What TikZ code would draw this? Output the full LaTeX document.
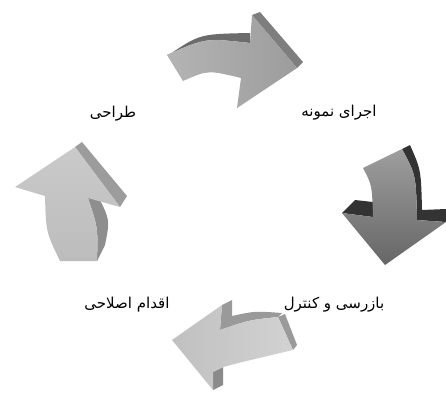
\documentclass[tikz,border=0pt]{standalone}
\usepackage{fontspec}
\newfontfamily\arabicfont[Script=Arabic]{DejaVu Sans}
\TeXXeTstate=1
\definecolor{tA}{HTML}{B4B4B4}
\definecolor{tB}{HTML}{9C9C9C}
\definecolor{tD}{HTML}{6C6C6C}
\definecolor{tH}{HTML}{7E7E7E}
\definecolor{rA}{HTML}{9E9E9E}
\definecolor{rB}{HTML}{666666}
\definecolor{rD}{HTML}{333333}
\definecolor{bA}{HTML}{D2D2D2}
\definecolor{bB}{HTML}{C0C0C0}
\definecolor{bD}{HTML}{9A9A9A}
\definecolor{lA}{HTML}{CACACA}
\definecolor{lB}{HTML}{BCBCBC}
\definecolor{lD}{HTML}{9C9C9C}
\definecolor{lE}{HTML}{8E8E8E}
\tikzset{
  lbl/.style={font=\arabicfont\fontsize{15}{18}\selectfont, inner sep=0pt},
}
\begin{document}
\begin{tikzpicture}[x=1pt,y=-1pt]
\useasboundingbox (0,0) rectangle (446,392);
% ---------- top arrow ----------
\fill[tD] (170,54) .. controls (200,34) .. (250,33) -- (250,43) .. controls (205,38) .. (167,55) -- cycle;
\fill[tH] (252,15) -- (260,12) -- (303,62) -- (297,68) -- cycle;
\shade[left color=tA, right color=tB] (167,55) -- (183,81) .. controls (208,70) .. (241,78) -- (237,108) -- (297,68) -- (252,15) -- (250,43) .. controls (205,38) .. (167,55) -- cycle;
% ---------- right arrow ----------
\fill[rD] (342,213) -- (355,200) -- (373,202) -- (373,217) -- cycle;
\fill[rD] (402,149) -- (410,145) .. controls (421,170) .. (422,210) -- (446,209) -- (446,222) -- (417,220) .. controls (416,175) .. (402,149) -- cycle;
\shade[top color=rA, bottom color=rB] (363,168) .. controls (372,185) .. (373,217) -- (342,213) -- (385,265) -- (446,222) -- (417,220) .. controls (416,175) .. (402,149) -- cycle;
% ---------- bottom arrow ----------
\fill[bD] (222,305) -- (232,300) -- (232,316) .. controls (255,311) .. (282,313) -- (278,317) .. controls (249,320) .. (220,330) -- cycle;
\fill[bD] (278,317) -- (285,314) -- (297,345) -- (293,350) -- cycle;
\fill[bD!90!black] (213,372) -- (223,367) -- (223,385) -- (213,390) -- cycle;
\shade[left color=bB, right color=bA] (172,340) -- (222,305) -- (220,330) .. controls (249,320) .. (278,317) -- (293,350) .. controls (242,362) .. (223,367) -- (213,372) -- (213,390) -- cycle;
% ---------- left arrow ----------
\fill[lD] (75,147) -- (82,142) -- (127,196) -- (120,207) -- cycle;
\fill[lE] (88,198) -- (98,196) .. controls (110,220) .. (105,245) -- (97,261) .. controls (98,228) .. (88,198) -- cycle;
\shade[top color=lA, bottom color=lB] (60,261) .. controls (46,232) .. (45,196) -- (15,187) -- (75,147) -- (120,207) -- (88,198) .. controls (98,228) .. (97,261) -- cycle;
% ---------- labels ----------
\node[lbl] (plan) at (113,114) {\beginR طراحی\endR};
\node[lbl] (do) at (339,113) {\beginR اجرای نمونه\endR};
\node[lbl] (check) at (334,305) {\beginR بازرسی و کنترل\endR};
\node[lbl] (act) at (127,305) {\beginR اقدام اصلاحی\endR};
\end{tikzpicture}
\end{document}
